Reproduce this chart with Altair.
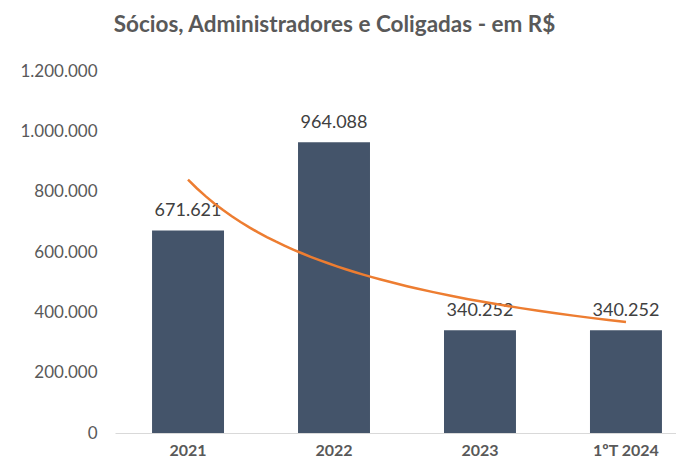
import altair as alt
import pandas as pd

categories = ["2021", "2022", "2023", "1ºT 2024"]
values = [671621, 964088, 340252, 340252]
value_labels = ["671.621", "964.088", "340.252", "340.252"]
y_ticks = [0, 200000, 400000, 600000, 800000, 1000000, 1200000]

df = pd.DataFrame({
    "cat": categories,
    "value": values,
    "label": value_labels,
    "idx": list(range(1, len(categories) + 1)),
})

x_band = alt.X(
    "cat:N",
    sort=categories,
    scale=alt.Scale(paddingInner=0.507, paddingOuter=0.175, align=0.725),
    axis=alt.Axis(
        orient="bottom", title=None, labelAngle=0, labelFont="Lato",
        labelFontWeight="bold", labelFontSize=16, labelColor="#595959",
        domainColor="#D9D9D9", domainWidth=1, ticks=False, labelPadding=9,
    ),
)
y_val = alt.Y(
    "value:Q",
    scale=alt.Scale(domain=[0, 1200000], nice=False),
    axis=alt.Axis(
        title=None, values=y_ticks, grid=False, domain=False, ticks=False,
        labelPadding=18, labelFont="Lato", labelFontSize=17, labelColor="#595959",
        labelExpr="replace(format(datum.value, ','), regexp(',', 'g'), '.')",
    ),
)

base = alt.Chart(df)
bars = base.mark_bar(color="#44546A").encode(x=x_band, y=y_val)
text = base.mark_text(
    baseline="bottom", dy=-10, font="Lato", fontSize=18, color="#404040"
).encode(x=x_band, y=y_val, text="label:N")
trend = base.transform_regression("idx", "value", method="pow").mark_line(
    color="#ED7D31", strokeWidth=2.5
).encode(
    x=alt.X("idx:Q", scale=alt.Scale(domain=[0.5, 4.3425], nice=False, zero=False), axis=None),
    y=alt.Y("value:Q"),
)

chart = alt.layer(alt.layer(bars, text), trend).resolve_scale(x="independent").properties(
    width=561,
    height=362,
    autosize="none",
    padding={"left": 107, "top": 63, "right": 0, "bottom": 27},
    title=alt.TitleParams(
        "Sócios, Administradores e Coligadas - em R$",
        font="Lato", fontSize=22.5, fontWeight="bold", color="#595959",
        anchor="middle", dx=-61, offset=26,
    ),
).configure_view(stroke=None)

chart.save("out.html", embed_options={"renderer": "svg", "actions": False})
